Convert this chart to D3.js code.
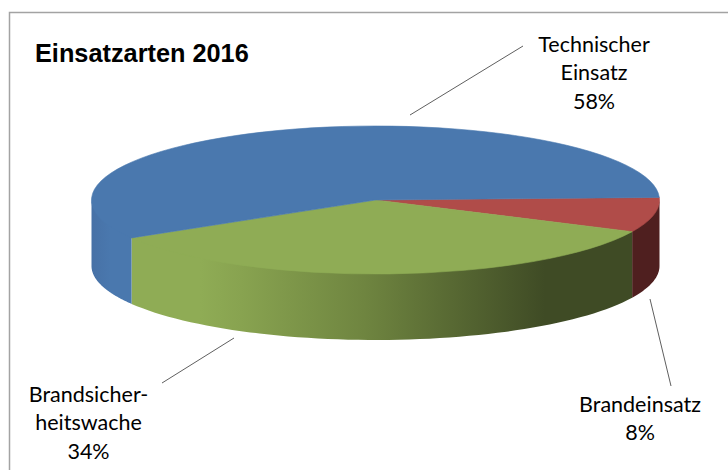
<!DOCTYPE html>
<html>
<head>
<meta charset="utf-8">
<script src="https://cdn.jsdelivr.net/npm/d3@7"></script>
<style>
  html, body { margin: 0; padding: 0; background: #fff; }
  svg { display: block; }
</style>
</head>
<body>
<script>
//chart data, in drawing order clockwise from the right edge
const categories = ["Brandeinsatz", "Brandsicherheitswache", "Technischer Einsatz"];
const percentValues = [7.6, 34.4, 58];
const labelLines = [["Brandeinsatz", "8%"], ["Brandsicher-", "heitswache", "34%"], ["Technischer", "Einsatz", "58%"]];
const topColors = ["#b04c49", "#8fac55", "#4a78ae"];
const sideColors = ["#4f1f1f", "url(#greenSide)", "url(#blueSide)"];
const chartTitle = "Einsatzarten 2016";

//layout
const width = 728, height = 470;
const cx = 375.5, cy = 200, rx = 284, ry = 74, depth = 66;
const startDeg = -2;
const labelPos = [[640, 412], [88.5, 402], [594, 52]];
const leaders = [[650, 299, 671, 386], [234, 338, 162, 383], [410, 115, 523, 46]];

const svg = d3.select("body").append("svg")
  .attr("width", width)
  .attr("height", height);

//side wall gradients run left to right like the original
const defs = svg.append("defs");
const green = defs.append("linearGradient")
  .attr("id", "greenSide")
  .attr("gradientUnits", "userSpaceOnUse")
  .attr("x1", 130).attr("x2", 632).attr("y1", 0).attr("y2", 0);
[[0, "#8fac55"], [0.14, "#8fac55"], [0.22, "#88a350"], [0.466, "#6f8540"], [0.827, "#3f4b25"], [1, "#3f4b25"]].forEach((s) => {
  green.append("stop").attr("offset", s[0]).attr("stop-color", s[1]);
});
const blue = defs.append("linearGradient")
  .attr("id", "blueSide")
  .attr("gradientUnits", "userSpaceOnUse")
  .attr("x1", 91).attr("x2", 130).attr("y1", 0).attr("y2", 0);
[[0, "#4771a6"], [0.5, "#4a78ae"], [1, "#4a78ae"]].forEach((s) => {
  blue.append("stop").attr("offset", s[0]).attr("stop-color", s[1]);
});

//frame, only top and left show in the crop
svg.append("path")
  .attr("d", `M9.5,${height}V12.5H${width}`)
  .attr("fill", "none")
  .attr("stroke", "#a3a3a3")
  .attr("stroke-width", 1.5);

svg.append("text")
  .attr("x", 35)
  .attr("y", 62)
  .attr("font-family", "'Liberation Sans', Arial, sans-serif")
  .attr("font-weight", "bold")
  .attr("font-size", 25.3)
  .attr("fill", "#000")
  .text(chartTitle);

//d3 measures angles from 12 o'clock, so shift by a quarter turn
const start = (startDeg + 90) * Math.PI / 180;
const pie = d3.pie().sort(null).startAngle(start).endAngle(start + 2 * Math.PI);
const slices = pie(percentValues);

//visible part of the wall is the front half of the ellipse
//top of the wall tucks 2px under the lid so no light seam shows
const front0 = Math.PI / 2, front1 = 3 * Math.PI / 2;
const wall = d3.area()
  .x((a) => cx + rx * Math.sin(a))
  .y0((a) => cy - ry * Math.cos(a) - 2)
  .y1((a) => cy - ry * Math.cos(a) + depth);

svg.append("g")
  .selectAll("path")
  .data(slices)
  .join("path")
  .attr("d", (d) => {
    const a0 = Math.max(d.startAngle, front0), a1 = Math.min(d.endAngle, front1);
    if (a1 <= a0) return null;
    const steps = d3.range(0, 61).map((i) => a0 + (a1 - a0) * i / 60);
    return wall(steps);
  })
  .attr("fill", (d, i) => sideColors[i]);

//thin stroke in the fill colour hides the seams between slices
const arc = d3.arc().innerRadius(0).outerRadius(rx);
svg.append("g")
  .attr("transform", `translate(${cx},${cy}) scale(1,${ry / rx})`)
  .selectAll("path")
  .data(slices)
  .join("path")
  .attr("d", arc)
  .attr("fill", (d, i) => topColors[i])
  .attr("stroke", (d, i) => topColors[i])
  .attr("stroke-width", 0.6)
  .attr("vector-effect", "non-scaling-stroke");

//leader lines
svg.append("g")
  .selectAll("line")
  .data(leaders)
  .join("line")
  .attr("x1", (d) => d[0]).attr("y1", (d) => d[1])
  .attr("x2", (d) => d[2]).attr("y2", (d) => d[3])
  .attr("stroke", "#5f5f5f")
  .attr("stroke-width", 1);

//data labels
const labels = svg.append("g")
  .selectAll("text")
  .data(categories)
  .join("text")
  .attr("font-family", "Lato, 'Noto Sans', sans-serif")
  .attr("font-size", 21.5)
  .attr("fill", "#000")
  .attr("text-anchor", "middle")
  .attr("transform", (d, i) => `translate(${labelPos[i][0]},${labelPos[i][1]})`);

labels.selectAll("tspan")
  .data((d, i) => labelLines[i])
  .join("tspan")
  .attr("x", 0)
  .attr("y", (d, i) => i * 28.3)
  .text((d) => d);
</script>
</body>
</html>
